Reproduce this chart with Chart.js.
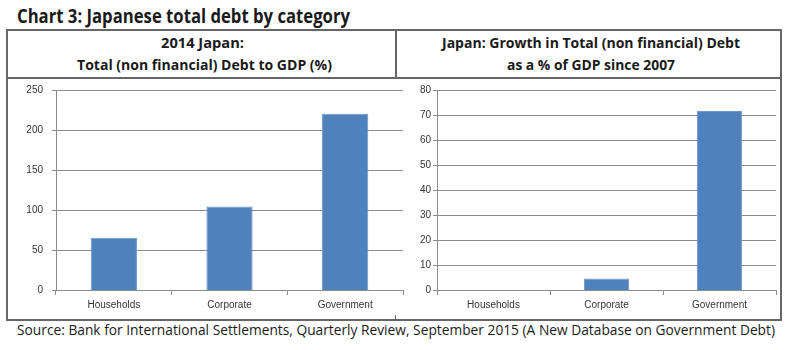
<!DOCTYPE html>
<html>
<head>
<meta charset="utf-8">
<script src="https://cdn.jsdelivr.net/npm/chart.js@4"></script>
<style>
  body { margin: 0; width: 800px; height: 350px; background: #fff; position: relative; overflow: hidden; font-family: "Open Sans", sans-serif; color: #1a1a1a; }
  .txt { position: absolute; white-space: nowrap; transform-origin: left center; }
  .title { left: 17px; top: 3px; font-size: 19px; font-weight: bold; }
  .head { font-size: 14px; font-weight: bold; }
  .src { left: 17px; top: 319px; font-size: 15px; }
  .line { position: absolute; background: #666; }
  canvas { position: absolute; }
</style>
</head>
<body>
<div class="txt title" data-w="333">Chart 3: Japanese total debt by category</div>

<!-- header box and frame -->
<div class="line" style="left:6px;top:29px;width:776px;height:2px;"></div>
<div class="line" style="left:6px;top:77px;width:776px;height:2px;"></div>
<div class="line" style="left:6px;top:29px;width:2px;height:292px;"></div>
<div class="line" style="left:780px;top:29px;width:2px;height:292px;"></div>
<div class="line" style="left:395px;top:29px;width:2px;height:50px;"></div>
<div class="line" style="left:6px;top:319px;width:776px;height:2px;"></div>
<div class="line" style="left:395px;top:315px;width:1px;height:5px;"></div>

<div class="txt head" data-w="83" data-cx="202" style="top:33px;">2014 Japan:</div>
<div class="txt head" data-w="255" data-cx="204" style="top:55px;">Total (non financial) Debt to GDP (%)</div>
<div class="txt head" data-w="298" data-cx="591" style="top:33px;">Japan: Growth in Total (non financial) Debt</div>
<div class="txt head" data-w="168" data-cx="591" style="top:55px;">as a % of GDP since 2007</div>

<canvas id="left" width="398" height="238" style="left:8px;top:80px;"></canvas>
<canvas id="right" width="380" height="238" style="left:400px;top:80px;"></canvas>

<div class="txt src" data-w="758">Source: Bank for International Settlements, Quarterly Review, September 2015 (A New Database on Government Debt)</div>

<script>
const categories = ["Households", "Corporate", "Government"];
const debtToGdp2014 = [66, 105, 221];
const growthSince2007 = [0, 4.8, 71.8];
const leftTicks = { max: 250, step: 50 };
const rightTicks = { max: 80, step: 10 };

// squeeze text to the widths measured on the reference
document.querySelectorAll(".txt").forEach(function (el) {
  const w = el.getBoundingClientRect().width;
  const target = +el.dataset.w;
  el.style.transform = "scaleX(" + (target / w) + ")";
  if (el.dataset.cx) el.style.left = (+el.dataset.cx - target / 2) + "px";
});

// pin the plot area to the box measured on the reference
const pinArea = {
  id: "pinArea",
  afterLayout(chart, args, opts) {
    const a = chart.chartArea;
    a.top = opts.top;
    a.bottom = opts.bottom;
    a.height = a.bottom - a.top;
    const y = chart.scales.y;
    y.top = a.top;
    y.bottom = a.bottom;
    y.height = a.height;
    y.configure();
  },
};

function makeChart(id, values, ticks, axisWidth, labelPad, padRight) {
  const ctx = document.getElementById(id);
  return new Chart(ctx, {
    type: "bar",
    data: {
      labels: categories,
      datasets: [
        {
          data: values,
          backgroundColor: "#4F81BD",
          borderColor: "#6E97C9",
          borderWidth: 1,
          categoryPercentage: 1,
          barPercentage: 0.4,
        },
      ],
    },
    options: {
      responsive: false,
      animation: false,
      layout: { padding: { top: 7, right: padRight, left: 0, bottom: 0 } },
      plugins: {
        legend: { display: false },
        tooltip: { enabled: false },
        pinArea: { top: 10.5, bottom: 210.5 },
      },
      scales: {
        x: {
          grid: { offset: true, drawOnChartArea: false, tickLength: 5, color: "#8c8c8c" },
          border: { color: "#8c8c8c" },
          ticks: { color: "#333", font: { family: "Liberation Sans", size: 10 }, padding: 4 },
          afterFit: function (axis) { axis.height = 28; },
        },
        y: {
          min: 0,
          max: ticks.max,
          grid: { color: "#8c8c8c", tickLength: 4 },
          border: { color: "#8c8c8c" },
          ticks: { stepSize: ticks.step, color: "#333", font: { family: "Liberation Sans", size: 10 }, padding: labelPad },
          afterFit: function (axis) { axis.width = axisWidth; },
        },
      },
    },
    plugins: [pinArea],
  });
}

makeChart("left", debtToGdp2014, leftTicks, 48, 9, 3);
makeChart("right", growthSince2007, rightTicks, 37, 2, 4);
</script>
</body>
</html>
